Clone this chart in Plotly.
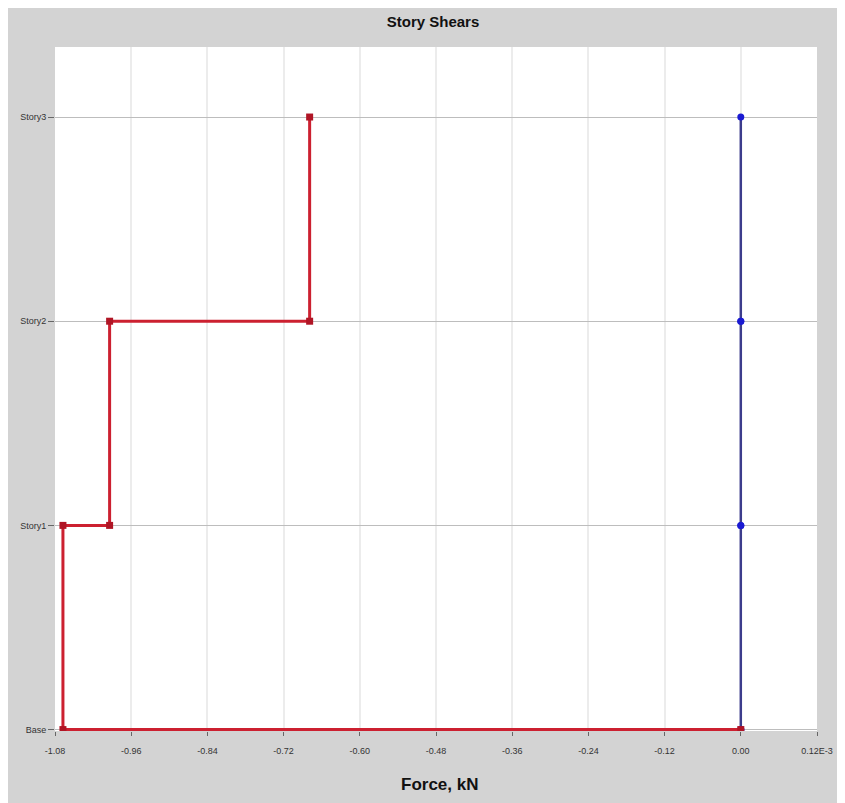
import plotly.graph_objects as go

# ---- data ----
levels = ["Base", "Story1", "Story2", "Story3"]
red_story_shear = [-1.0675, -0.994, -0.679]   # shear of Story1, Story2, Story3
blue_story_shear = [0.0, 0.0, 0.0]
x_tick_vals = [-1.08, -0.96, -0.84, -0.72, -0.60, -0.48, -0.36, -0.24, -0.12, 0.00, 0.12]
x_tick_text = ["-1.08", "-0.96", "-0.84", "-0.72", "-0.60", "-0.48", "-0.36", "-0.24", "-0.12", "0.00", "0.12E-3"]

FONT = "Liberation Sans Narrow, Arial Narrow, Liberation Sans, Arial, sans-serif"


def step_path(shears):
    xs, ys = [0.0], [levels[0]]
    for i, s in enumerate(shears):
        xs += [s, s]
        ys += [levels[i], levels[i + 1]]
    return xs, ys


bx, by = step_path(blue_story_shear)
rx, ry = step_path(red_story_shear)

fig = go.Figure()
fig.add_trace(go.Scatter(
    x=bx, y=by, mode="lines+markers",
    line=dict(color="#3c3c8c", width=2.5),
    marker=dict(color="#1a1ad2", size=7, symbol="circle"),
    showlegend=False, hoverinfo="skip"))
fig.add_trace(go.Scatter(
    x=rx, y=ry, mode="lines+markers",
    line=dict(color="#cc2030", width=3),
    marker=dict(color="#b01525", size=7, symbol="square"),
    showlegend=False, hoverinfo="skip"))

W, H = 837, 795
fig.update_layout(
    width=W, height=H,
    margin=dict(l=44, r=28, t=39, b=72),
    paper_bgcolor="#d3d3d3",
    plot_bgcolor="white",
    font=dict(family=FONT, size=9, color="#333333"),
    title=dict(text="<b>Story Shears</b>", x=425 / W, xanchor="center",
               y=1 - 14 / H, yanchor="middle",
               font=dict(family=FONT, size=15, color="#111111")),
    xaxis=dict(range=[-1.08, 0.12], tickvals=x_tick_vals, ticktext=x_tick_text,
               showgrid=True, gridcolor="#ececec", gridwidth=2, zeroline=False,
               ticks="outside", ticklen=4, tickcolor="#666666",
               ticklabelstandoff=7, showline=False,
               tickfont=dict(family=FONT, size=9, color="#333333")),
    yaxis=dict(type="category", categoryorder="array", categoryarray=levels,
               range=[-0.007, 3.343],
               showgrid=True, gridcolor="#bdbdbd", gridwidth=1, zeroline=False,
               ticks="outside", ticklen=6, tickcolor="#666666", showline=False,
               tickfont=dict(family=FONT, size=9, color="#333333")),
    annotations=[
        dict(text="<b>Force, kN</b>", xref="paper", yref="paper",
             x=(438 - 52) / 765, y=(731 - 784) / 684, xanchor="center", yanchor="middle",
             showarrow=False, font=dict(family=FONT, size=17, color="#111111")),
    ],
)

fig.write_html("out.html")
